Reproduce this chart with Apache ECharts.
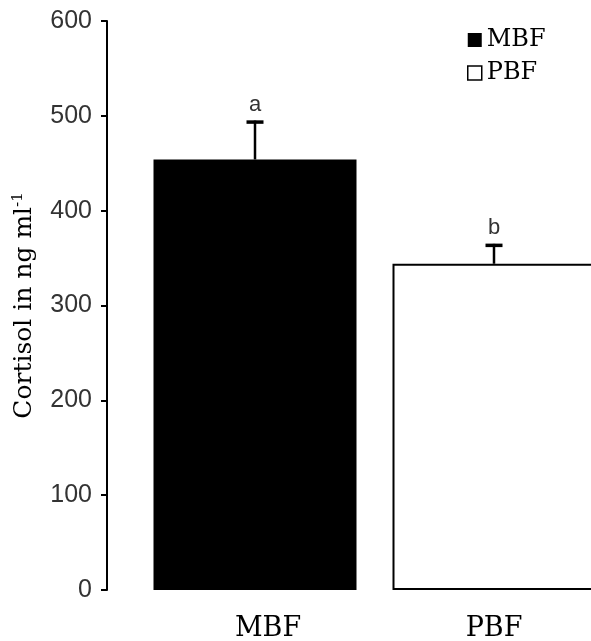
<!DOCTYPE html>
<html>
<head>
<meta charset="utf-8">
<script src="https://cdn.jsdelivr.net/npm/echarts@6/dist/echarts.min.js"></script>
<style>html,body{margin:0;padding:0;background:#fff}#c{width:591px;height:641px}</style>
</head>
<body>
<div id="c"></div>
<script>
const categories = ['MBF', 'PBF'];
const meanValues = [454, 344];
const errorTops = [495, 365];
const sigLetters = ['a', 'b'];
const yMin = 0, yMax = 600, yStep = 100;

const chart = echarts.init(document.getElementById('c'), null, {renderer: 'canvas'});
const serif = '"DejaVu Serif", "Liberation Serif", serif';
const sans = '"Liberation Sans", Arial, sans-serif';

const errData = categories.map((c, i) => [i, errorTops[i], meanValues[i], sigLetters[i]]);

chart.setOption({
  animation: false,
  backgroundColor: '#fff',
  grid: {left: 135.5, width: 478, top: 21, bottom: 51, containLabel: false, outerBoundsMode: 'none'},
  legend: {
    orient: 'vertical', left: 462, top: 20, icon: 'rect',
    itemWidth: 14, itemHeight: 14, itemGap: 3,
    textStyle: {fontFamily: serif, fontSize: 24, color: '#000', lineHeight: 30},
    data: [
      {name: 'MBF', itemStyle: {color: '#000'}},
      {name: 'PBF', itemStyle: {color: '#fff', borderColor: '#000', borderWidth: 1.5}}
    ]
  },
  xAxis: {
    type: 'category', data: categories,
    axisLine: {show: false}, axisTick: {show: false},
    axisLabel: {
      margin: 25, color: '#000', fontFamily: serif, fontSize: 27,
      formatter: v => v === 'MBF' ? '{m|' + v + '}' : v,
      rich: {m: {fontFamily: serif, fontSize: 27, color: '#000', padding: [0, 0, 0, 26]}}
    }
  },
  yAxis: {
    type: 'value', min: yMin, max: yMax, interval: yStep, offset: 28.5,
    axisLine: {show: true, lineStyle: {color: '#000', width: 2}},
    axisTick: {show: true, length: 6, lineStyle: {color: '#000', width: 2}},
    splitLine: {show: false},
    axisLabel: {margin: 15, color: '#333', fontFamily: sans, fontSize: 25},
    name: 'Cortisol in ng ml{sup|-1}',
    nameLocation: 'middle', nameRotate: 90, nameGap: 70,
    nameTextStyle: {
      fontFamily: serif, fontSize: 25, color: '#000', lineHeight: 26,
      rich: {sup: {fontFamily: serif, fontSize: 15, color: '#000', verticalAlign: 'top', lineHeight: 26}}
    }
  },
  series: [
    {
      name: 'MBF', type: 'bar', barWidth: 203, barGap: '-100%',
      data: [meanValues[0], '-'],
      itemStyle: {color: '#000'}
    },
    {
      name: 'PBF', type: 'bar', barWidth: 203, barGap: '-100%',
      data: ['-', meanValues[1]],
      itemStyle: {color: '#fff', borderColor: '#000', borderWidth: 2}
    },
    {
      type: 'custom', name: 'err', z: 5,
      data: errData,
      renderItem: function (params, api) {
        const top = api.coord([api.value(0), api.value(1)]);
        const base = api.coord([api.value(0), api.value(2)]);
        const letter = sigLetters[params.dataIndex];
        return {
          type: 'group',
          children: [
            {type: 'line', shape: {x1: top[0], y1: top[1], x2: base[0], y2: base[1]}, style: {stroke: '#000', lineWidth: 2.5}},
            {type: 'line', shape: {x1: top[0] - 8.5, y1: top[1] + 1.5, x2: top[0] + 8.5, y2: top[1] + 1.5}, style: {stroke: '#000', lineWidth: 3.5}},
            {type: 'text', style: {text: letter, x: top[0], y: top[1] - 5, align: 'center', verticalAlign: 'bottom', fontFamily: sans, fontSize: 22, fill: '#333'}}
          ]
        };
      }
    }
  ]
});
</script>
</body>
</html>
